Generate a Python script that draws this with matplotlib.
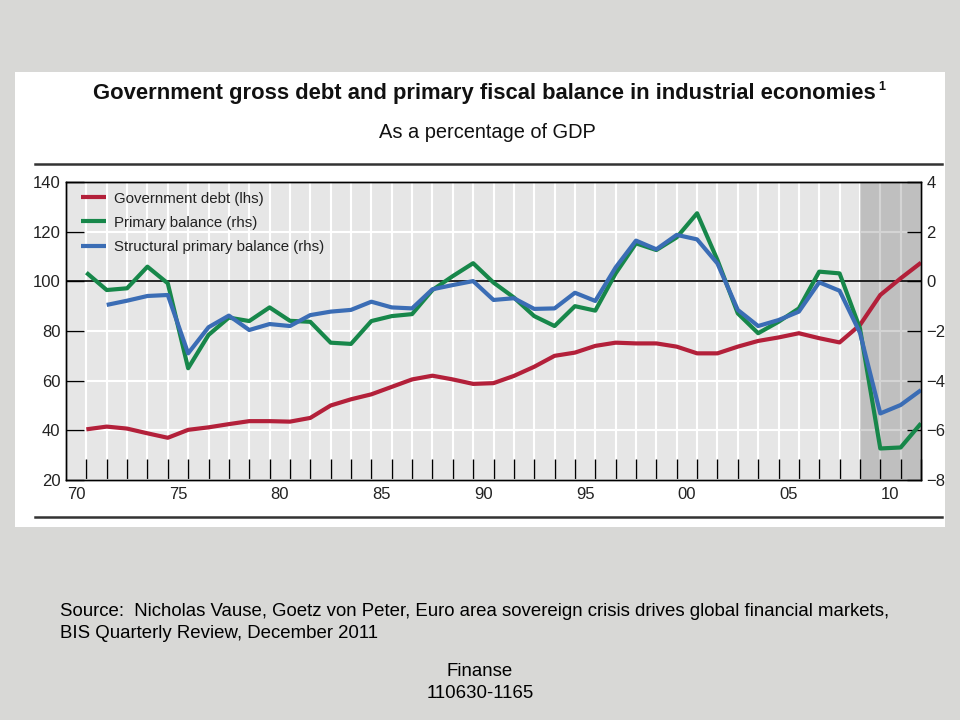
import numpy as np
import matplotlib.pyplot as plt
from matplotlib.patches import Rectangle
from matplotlib.lines import Line2D
from matplotlib.ticker import FixedLocator, NullFormatter

NARROW = ['Liberation Sans Narrow', 'Liberation Sans', 'DejaVu Sans']
plt.rcParams['font.family'] = NARROW

years = list(range(1970, 2012))
year_labels = ['70', '75', '80', '85', '90', '95', '00', '05', '10']
label_years = [1970, 1975, 1980, 1985, 1990, 1995, 2000, 2005, 2010]

# Government debt, % of GDP (lhs)
debt = [40.4, 41.5, 40.7, 38.8, 37.0, 40.2, 41.2, 42.5, 43.7, 43.7,
        43.5, 45.0, 50.0, 52.5, 54.5, 57.5, 60.5, 62.0, 60.5, 58.7,
        59.0, 61.9, 65.6, 70.0, 71.3, 74.0, 75.3, 75.0, 75.0, 73.7,
        71.0, 71.0, 73.7, 76.0, 77.4, 79.1, 77.1, 75.4, 82.4, 94.5,
        101.2, 107.5]
# Primary balance, % of GDP (rhs)
primary = [0.35, -0.35, -0.28, 0.59, -0.08, -3.5, -2.16, -1.46, -1.6, -1.05,
           -1.59, -1.63, -2.47, -2.52, -1.6, -1.4, -1.32, -0.35, 0.21, 0.73,
           -0.05, -0.65, -1.4, -1.8, -1.0, -1.18, 0.32, 1.53, 1.26, 1.77,
           2.74, 0.86, -1.29, -2.09, -1.63, -1.09, 0.39, 0.32, -1.89, -6.73,
           -6.69, -5.72]
# Structural primary balance, % of GDP (rhs)
structural = [np.nan, -0.95, -0.78, -0.59, -0.55, -2.9, -1.85, -1.38, -1.96, -1.72,
              -1.8, -1.36, -1.22, -1.15, -0.82, -1.05, -1.09, -0.32, -0.15, 0.01,
              -0.75, -0.68, -1.11, -1.09, -0.46, -0.79, 0.56, 1.64, 1.29, 1.87,
              1.69, 0.72, -1.15, -1.8, -1.56, -1.22, -0.04, -0.38, -2.07, -5.32,
              -4.98, -4.38]
shade_from, shade_to = 2008, 2011

RED = '#b3203a'
GREEN = '#17874a'
BLUE = '#3b6db5'

fig = plt.figure(figsize=(9.6, 7.2), dpi=100)
fig.patch.set_facecolor('#d8d8d6')

# white panel holding the chart
fig.patches.append(Rectangle((15 / 960, 1 - 527 / 720), 930 / 960, 455 / 720,
                             transform=fig.transFigure, facecolor='white',
                             edgecolor='none', zorder=-5))
for yy in (164, 517):
    fig.lines.append(Line2D([35 / 960, 942 / 960], [1 - yy / 720] * 2,
                            transform=fig.transFigure, color='#333333', lw=1.8,
                            zorder=-4))

ax = fig.add_axes([66 / 960, 1 - 480 / 720, 855 / 960, 298 / 720])
ax2 = ax.twinx()

ax.set_facecolor('#e6e6e6')
ax.set_axisbelow(True)
ax.grid(True, which='major', color='white', lw=1.5)
ax.axvspan(shade_from, shade_to, color='black', alpha=0.17, lw=0, zorder=1)
ax.axhline(100, color='black', lw=1.2, zorder=1.5)

l1, = ax.plot(years, debt, color=RED, lw=3, solid_capstyle='butt', zorder=3)
l2, = ax2.plot(years, primary, color=GREEN, lw=3, solid_capstyle='butt')
l3, = ax2.plot(years, structural, color=BLUE, lw=3, solid_capstyle='butt')

ax.set_xlim(1969, 2011)
ax.set_ylim(20, 140)
ax2.set_ylim(-8, 4)
ax.set_yticks(range(20, 141, 20))
ax2.set_yticks(range(-8, 5, 2))

ax.xaxis.set_major_locator(FixedLocator(years))
ax.xaxis.set_major_formatter(NullFormatter())
ax.xaxis.set_minor_locator(FixedLocator([y - 0.5 for y in label_years]))
ax.set_xticklabels(year_labels, minor=True)
ax.tick_params(axis='x', which='major', direction='in', length=15, width=1, color='black')
ax.tick_params(axis='x', which='minor', length=0, pad=5, labelsize=12, labelcolor='#222222')
ax.tick_params(axis='y', direction='in', length=13, width=1, pad=4, labelsize=12,
               labelcolor='#222222')
ax2.tick_params(axis='y', direction='in', length=10, width=1, pad=4, labelsize=12,
                labelcolor='#222222')
for a in (ax, ax2):
    for s in a.spines.values():
        s.set_color('black')
        s.set_linewidth(1)

leg = ax2.legend([l1, l2, l3],
                 ['Government debt (lhs)', 'Primary balance (rhs)',
                  'Structural primary balance (rhs)'],
                 loc='upper left', frameon=False, fontsize=10.8, handlelength=1.7,
                 handletextpad=0.5, labelspacing=0.68, borderaxespad=0, borderpad=0,
                 bbox_to_anchor=(0.0175, 0.968))
for t in leg.get_texts():
    t.set_color('#222222')

title = fig.text(0.505, 1 - 93 / 720, 'Government gross debt and primary fiscal balance in industrial economies',
                 ha='center', va='center', fontsize=15.8, fontweight='bold', color='#111111')
fig.add_artist(plt.Annotation('1', xy=(1, 1), xycoords=title, xytext=(1.5, 1),
                              textcoords='offset points', ha='left', va='top',
                              fontsize=9, fontweight='bold', color='#111111'))
fig.text(0.508, 1 - 133 / 720, 'As a percentage of GDP', ha='center', va='center',
         fontsize=14.4, color='#111111')

SRC = ['Liberation Sans', 'DejaVu Sans']
fig.text(60 / 960, 1 - 611 / 720,
         'Source:  Nicholas Vause, Goetz von Peter, Euro area sovereign crisis drives global financial markets,',
         ha='left', va='center', fontsize=13.4, family=SRC)
fig.text(60 / 960, 1 - 634 / 720, 'BIS Quarterly Review, December 2011',
         ha='left', va='center', fontsize=13.4, family=SRC)
fig.text(480 / 960, 1 - 672 / 720, 'Finanse', ha='center', va='center', fontsize=13.4, family=SRC)
fig.text(480 / 960, 1 - 694 / 720, '110630-1165', ha='center', va='center', fontsize=13.4, family=SRC)

fig.savefig('out.png', dpi=100, facecolor=fig.get_facecolor())
